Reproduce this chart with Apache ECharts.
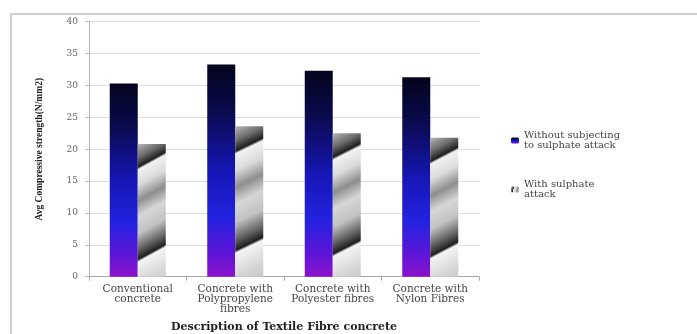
<!DOCTYPE html>
<html>
<head>
<meta charset="utf-8">
<style>
  html, body { margin: 0; padding: 0; background: #ffffff; }
  #chart { width: 697px; height: 334px; }
</style>
<script src="https://cdn.jsdelivr.net/npm/echarts@6/dist/echarts.min.js"></script>
</head>
<body>
<div id="chart"></div>
<script>
// Average compressive strength of textile fibre concretes, before and after sulphate attack
const categories = [
  'Conventional\nconcrete',
  'Concrete with\nPolypropylene\nfibres',
  'Concrete with\nPolyester fibres',
  'Concrete with\nNylon Fibres'
];
const withoutSulphate = [30.3, 33.3, 32.3, 31.3];
const withSulphate = [20.8, 23.6, 22.5, 21.8];
const yTicks = { min: 0, max: 40, interval: 5 };

const serif = '"Liberation Serif", "DejaVu Serif", serif';
const wideSerif = '"DejaVu Serif", "Liberation Serif", serif';

// dark navy -> blue -> violet fill for the untreated series
const blueFill = new echarts.graphic.LinearGradient(0, 0, 0, 1, [
  { offset: 0, color: '#04041c' },
  { offset: 0.22, color: '#0a0a4e' },
  { offset: 0.5, color: '#1616b4' },
  { offset: 0.72, color: '#2222e0' },
  { offset: 0.88, color: '#5a16d8' },
  { offset: 1, color: '#8c12cc' }
]);

// slanted chrome-like fill with diagonal dark bands for the sulphate series
const chromeFill = new echarts.graphic.LinearGradient(0, 0, 2.6, 1, [
  { offset: 0, color: '#b8b8b8' },
  { offset: 0.08, color: '#6a6a6a' },
  { offset: 0.135, color: '#1e1e1e' },
  { offset: 0.15, color: '#f2f2f2' },
  { offset: 0.24, color: '#dadada' },
  { offset: 0.33, color: '#8e8e8e' },
  { offset: 0.42, color: '#d6d6d6' },
  { offset: 0.52, color: '#c2c2c2' },
  { offset: 0.62, color: '#5a5a5a' },
  { offset: 0.67, color: '#1e1e1e' },
  { offset: 0.685, color: '#f4f4f4' },
  { offset: 0.8, color: '#d8d8d8' },
  { offset: 1, color: '#b0b0b0' }
]);

const chart = echarts.init(document.getElementById('chart'), null, { renderer: 'canvas' });

chart.setOption({
  animation: false,
  backgroundColor: '#ffffff',
  textStyle: { fontFamily: serif },
  graphic: [
    { type: 'line', shape: { x1: 10, y1: 14, x2: 697, y2: 14 }, style: { stroke: '#cfcfcf', lineWidth: 2 } },
    { type: 'line', shape: { x1: 11, y1: 14, x2: 11, y2: 334 }, style: { stroke: '#cfcfcf', lineWidth: 2 } }
  ],
  grid: { left: 89, right: 218, top: 21.7, bottom: 57.3, containLabel: false, outerBoundsMode: 'none' },
  legend: {
    orient: 'vertical',
    left: 506,
    top: 125,
    itemWidth: 8,
    itemHeight: 6,
    itemGap: 28,
    textStyle: { fontFamily: wideSerif, fontSize: 10, color: '#444', lineHeight: 10.5 },
    data: ['Without subjecting\nto sulphate attack', 'With sulphate\nattack']
  },
  xAxis: {
    type: 'category',
    data: categories,
    name: 'Description of Textile Fibre concrete',
    nameLocation: 'middle',
    nameGap: 45,
    nameTextStyle: { fontFamily: wideSerif, fontSize: 11, fontWeight: 'bold', color: '#222' },
    axisLine: { lineStyle: { color: '#a8a8a8' } },
    axisTick: { show: true, length: 4, lineStyle: { color: '#a8a8a8' } },
    axisLabel: { fontFamily: wideSerif, fontSize: 10.5, color: '#444', lineHeight: 10, margin: 8, interval: 0 }
  },
  yAxis: {
    type: 'value',
    min: yTicks.min,
    max: yTicks.max,
    interval: yTicks.interval,
    name: 'Avg Compressive strength(N/mm2)',
    nameLocation: 'middle',
    nameGap: 44,
    nameTextStyle: { fontFamily: serif, fontSize: 9.5, fontWeight: 'bold', color: '#222' },
    axisLine: { show: true, lineStyle: { color: '#b8b8b8' } },
    axisTick: { show: true, length: 4, lineStyle: { color: '#b8b8b8' } },
    axisLabel: { fontFamily: wideSerif, fontSize: 9, color: '#666', margin: 11 },
    splitLine: { lineStyle: { color: '#dedede' } }
  },
  series: [
    {
      name: 'Without subjecting\nto sulphate attack',
      type: 'bar',
      data: withoutSulphate,
      barWidth: 28,
      barGap: '0%',
      itemStyle: { color: blueFill }
    },
    {
      name: 'With sulphate\nattack',
      type: 'bar',
      data: withSulphate,
      barWidth: 28,
      itemStyle: { color: chromeFill }
    }
  ]
});
</script>
</body>
</html>
